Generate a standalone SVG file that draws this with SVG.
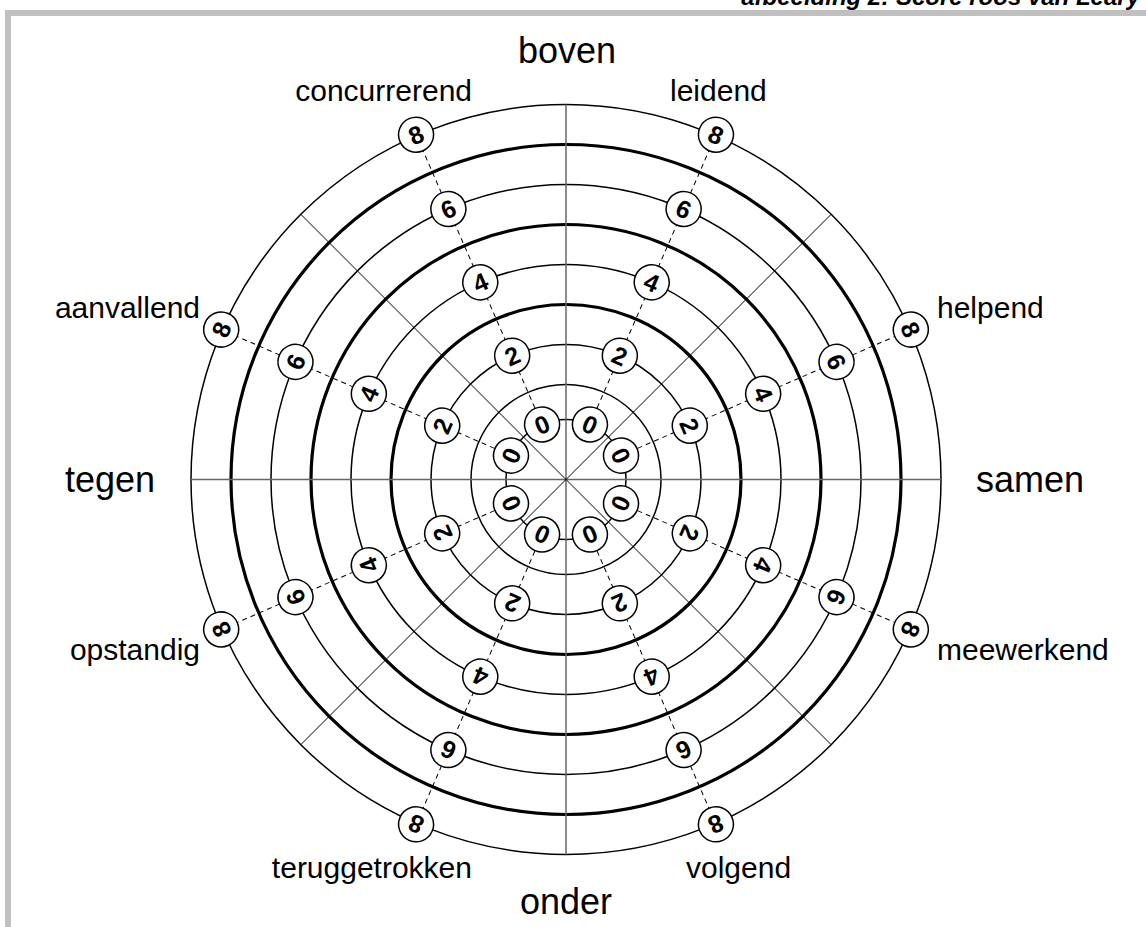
<svg xmlns="http://www.w3.org/2000/svg" width="1146" height="927" viewBox="0 0 1146 927">
<style>
.ring{fill:none;stroke:#000;stroke-width:1.5}
.thick{stroke-width:3.2}
.axis{stroke:#666;stroke-width:1.5}
.diag{stroke:#000;stroke-width:1}
.dash{stroke:#000;stroke-width:1;stroke-dasharray:5 4}
.badge circle{fill:#fff;stroke:#000;stroke-width:1.5}
.badge text{font-family:"Liberation Sans",Arial,sans-serif;font-weight:bold;font-size:25px;text-anchor:middle}
.lbl{font-family:"Liberation Sans",Arial,sans-serif;font-size:30px;fill:#000}
.big{font-size:36px}
.title{font-family:"Liberation Sans",Arial,sans-serif;font-size:24px;font-weight:bold;font-style:italic;text-anchor:end}
</style>
<rect width="1146" height="927" fill="#fff"/>
<path d="M8,927 V13 H1146" fill="none" stroke="#c0c0c0" stroke-width="6"/>
<text class="title" x="1140" y="5">afbeelding 2: Score roos van Leary</text>

<g id="grid">
<circle class="ring" cx="566" cy="479.5" r="60"/>
<circle class="ring" cx="566" cy="479.5" r="95"/>
<circle class="ring" cx="566" cy="479.5" r="135"/>
<circle class="ring thick" cx="566" cy="479.5" r="175"/>
<circle class="ring" cx="566" cy="479.5" r="215"/>
<circle class="ring thick" cx="566" cy="479.5" r="255"/>
<circle class="ring" cx="566" cy="479.5" r="295"/>
<circle class="ring thick" cx="566" cy="479.5" r="335"/>
<circle class="ring" cx="566" cy="479.5" r="375"/>
<line class="axis" x1="191" y1="479.5" x2="941" y2="479.5"/>
<line class="axis" x1="566" y1="104.5" x2="566" y2="854.5"/>
<line class="diag" x1="300.8" y1="214.3" x2="831.2" y2="744.7"/>
<line class="diag" x1="831.2" y1="214.3" x2="300.8" y2="744.7"/>
</g>

<g id="connectors" transform="translate(566,479.5)">
<line class="dash" x1="0" y1="-60" x2="0" y2="-375" transform="rotate(23.5)"/>
<line class="dash" x1="0" y1="-60" x2="0" y2="-375" transform="rotate(66.5)"/>
<line class="dash" x1="0" y1="-60" x2="0" y2="-375" transform="rotate(113.5)"/>
<line class="dash" x1="0" y1="-60" x2="0" y2="-375" transform="rotate(156.5)"/>
<line class="dash" x1="0" y1="-60" x2="0" y2="-375" transform="rotate(203.5)"/>
<line class="dash" x1="0" y1="-60" x2="0" y2="-375" transform="rotate(246.5)"/>
<line class="dash" x1="0" y1="-60" x2="0" y2="-375" transform="rotate(293.5)"/>
<line class="dash" x1="0" y1="-60" x2="0" y2="-375" transform="rotate(336.5)"/>
</g>

<g id="badges" transform="translate(566,479.5)">
<g id="leidend-0" class="badge" transform="rotate(23.5) translate(0,-60)"><circle r="17.5"/><text y="9">0</text></g>
<g id="leidend-2" class="badge" transform="rotate(23.5) translate(0,-135)"><circle r="17.5"/><text y="9">2</text></g>
<g id="leidend-4" class="badge" transform="rotate(23.5) translate(0,-215)"><circle r="17.5"/><text y="9">4</text></g>
<g id="leidend-6" class="badge" transform="rotate(23.5) translate(0,-295)"><circle r="17.5"/><text y="9">6</text></g>
<g id="leidend-8" class="badge" transform="rotate(23.5) translate(0,-376)"><circle r="17.5"/><text y="9">8</text></g>

<g id="helpend-0" class="badge" transform="rotate(66.5) translate(0,-60)"><circle r="17.5"/><text y="9">0</text></g>
<g id="helpend-2" class="badge" transform="rotate(66.5) translate(0,-135)"><circle r="17.5"/><text y="9">2</text></g>
<g id="helpend-4" class="badge" transform="rotate(66.5) translate(0,-215)"><circle r="17.5"/><text y="9">4</text></g>
<g id="helpend-6" class="badge" transform="rotate(66.5) translate(0,-295)"><circle r="17.5"/><text y="9">6</text></g>
<g id="helpend-8" class="badge" transform="rotate(66.5) translate(0,-376)"><circle r="17.5"/><text y="9">8</text></g>

<g id="meewerkend-0" class="badge" transform="rotate(113.5) translate(0,-60)"><circle r="17.5"/><text y="9">0</text></g>
<g id="meewerkend-2" class="badge" transform="rotate(113.5) translate(0,-135)"><circle r="17.5"/><text y="9">2</text></g>
<g id="meewerkend-4" class="badge" transform="rotate(113.5) translate(0,-215)"><circle r="17.5"/><text y="9">4</text></g>
<g id="meewerkend-6" class="badge" transform="rotate(113.5) translate(0,-295)"><circle r="17.5"/><text y="9">6</text></g>
<g id="meewerkend-8" class="badge" transform="rotate(113.5) translate(0,-376)"><circle r="17.5"/><text y="9">8</text></g>

<g id="volgend-0" class="badge" transform="rotate(156.5) translate(0,-60)"><circle r="17.5"/><text y="9">0</text></g>
<g id="volgend-2" class="badge" transform="rotate(156.5) translate(0,-135)"><circle r="17.5"/><text y="9">2</text></g>
<g id="volgend-4" class="badge" transform="rotate(156.5) translate(0,-215)"><circle r="17.5"/><text y="9">4</text></g>
<g id="volgend-6" class="badge" transform="rotate(156.5) translate(0,-295)"><circle r="17.5"/><text y="9">6</text></g>
<g id="volgend-8" class="badge" transform="rotate(156.5) translate(0,-376)"><circle r="17.5"/><text y="9">8</text></g>

<g id="teruggetrokken-0" class="badge" transform="rotate(203.5) translate(0,-60)"><circle r="17.5"/><text y="9">0</text></g>
<g id="teruggetrokken-2" class="badge" transform="rotate(203.5) translate(0,-135)"><circle r="17.5"/><text y="9">2</text></g>
<g id="teruggetrokken-4" class="badge" transform="rotate(203.5) translate(0,-215)"><circle r="17.5"/><text y="9">4</text></g>
<g id="teruggetrokken-6" class="badge" transform="rotate(203.5) translate(0,-295)"><circle r="17.5"/><text y="9">6</text></g>
<g id="teruggetrokken-8" class="badge" transform="rotate(203.5) translate(0,-376)"><circle r="17.5"/><text y="9">8</text></g>

<g id="opstandig-0" class="badge" transform="rotate(246.5) translate(0,-60)"><circle r="17.5"/><text y="9">0</text></g>
<g id="opstandig-2" class="badge" transform="rotate(246.5) translate(0,-135)"><circle r="17.5"/><text y="9">2</text></g>
<g id="opstandig-4" class="badge" transform="rotate(246.5) translate(0,-215)"><circle r="17.5"/><text y="9">4</text></g>
<g id="opstandig-6" class="badge" transform="rotate(246.5) translate(0,-295)"><circle r="17.5"/><text y="9">6</text></g>
<g id="opstandig-8" class="badge" transform="rotate(246.5) translate(0,-376)"><circle r="17.5"/><text y="9">8</text></g>

<g id="aanvallend-0" class="badge" transform="rotate(293.5) translate(0,-60)"><circle r="17.5"/><text y="9">0</text></g>
<g id="aanvallend-2" class="badge" transform="rotate(293.5) translate(0,-135)"><circle r="17.5"/><text y="9">2</text></g>
<g id="aanvallend-4" class="badge" transform="rotate(293.5) translate(0,-215)"><circle r="17.5"/><text y="9">4</text></g>
<g id="aanvallend-6" class="badge" transform="rotate(293.5) translate(0,-295)"><circle r="17.5"/><text y="9">6</text></g>
<g id="aanvallend-8" class="badge" transform="rotate(293.5) translate(0,-376)"><circle r="17.5"/><text y="9">8</text></g>

<g id="concurrerend-0" class="badge" transform="rotate(336.5) translate(0,-60)"><circle r="17.5"/><text y="9">0</text></g>
<g id="concurrerend-2" class="badge" transform="rotate(336.5) translate(0,-135)"><circle r="17.5"/><text y="9">2</text></g>
<g id="concurrerend-4" class="badge" transform="rotate(336.5) translate(0,-215)"><circle r="17.5"/><text y="9">4</text></g>
<g id="concurrerend-6" class="badge" transform="rotate(336.5) translate(0,-295)"><circle r="17.5"/><text y="9">6</text></g>
<g id="concurrerend-8" class="badge" transform="rotate(336.5) translate(0,-376)"><circle r="17.5"/><text y="9">8</text></g>
</g>

<g id="labels">
<text class="lbl big" x="567" y="63" text-anchor="middle">boven</text>
<text class="lbl big" x="566" y="914" text-anchor="middle">onder</text>
<text class="lbl big" x="110" y="492" text-anchor="middle">tegen</text>
<text class="lbl big" x="1030" y="492" text-anchor="middle">samen</text>
<text class="lbl" x="472" y="101" text-anchor="end">concurrerend</text>
<text class="lbl" x="670" y="101">leidend</text>
<text class="lbl" x="200" y="318" text-anchor="end">aanvallend</text>
<text class="lbl" x="937" y="318">helpend</text>
<text class="lbl" x="200" y="660" text-anchor="end">opstandig</text>
<text class="lbl" x="937" y="660">meewerkend</text>
<text class="lbl" x="472" y="878" text-anchor="end">teruggetrokken</text>
<text class="lbl" x="686" y="878">volgend</text>
</g>
</svg>
